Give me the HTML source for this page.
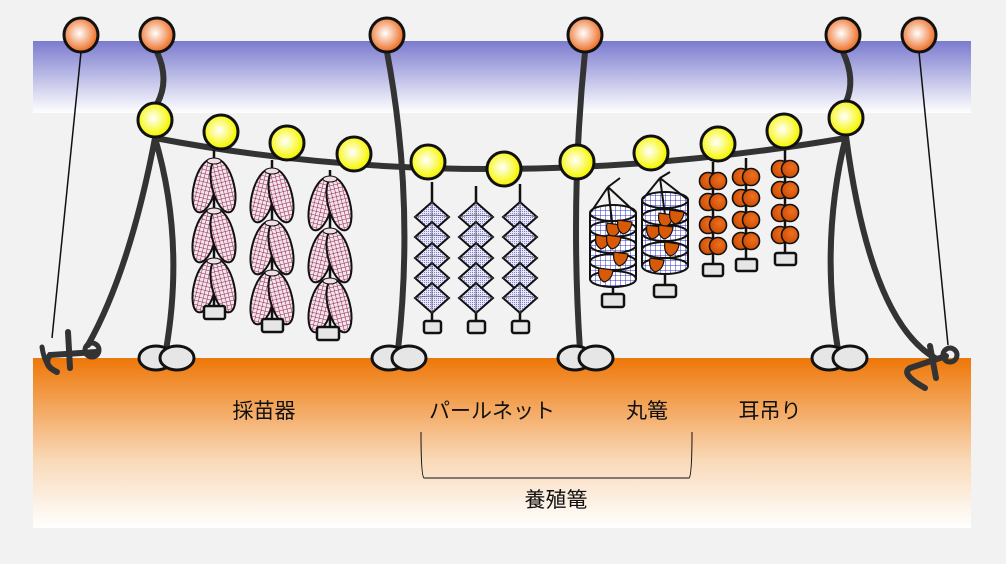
<!DOCTYPE html>
<html><head><meta charset="utf-8"><style>
html,body{margin:0;padding:0;background:#f2f2f2}
svg{display:block}
text{font-family:"Liberation Sans","Noto Sans CJK JP",sans-serif;font-size:21px;fill:#111}
</style></head><body>
<svg width="1006" height="564" viewBox="0 0 1006 564" xmlns="http://www.w3.org/2000/svg">
<defs>
<linearGradient id="sky" x1="0" y1="0" x2="0" y2="1"><stop offset="0" stop-color="#7b7bcf"/><stop offset="1" stop-color="#ffffff"/></linearGradient>
<linearGradient id="gnd" x1="0" y1="0" x2="0" y2="1"><stop offset="0" stop-color="#ee7708"/><stop offset="0.6" stop-color="#f9d9b8"/><stop offset="1" stop-color="#ffffff"/></linearGradient>
<radialGradient id="or" cx="0.45" cy="0.45" r="0.55"><stop offset="0" stop-color="#fff"/><stop offset="0.85" stop-color="#f08040"/><stop offset="1" stop-color="#e86a20"/></radialGradient>
<radialGradient id="ye" cx="0.45" cy="0.45" r="0.55"><stop offset="0" stop-color="#fff"/><stop offset="0.8" stop-color="#f8f820"/><stop offset="1" stop-color="#eeee00"/></radialGradient>
<radialGradient id="ball" cx="0.6" cy="0.4" r="0.7"><stop offset="0" stop-color="#f07020"/><stop offset="1" stop-color="#c84800"/></radialGradient>
<pattern id="pg" width="4" height="4" patternUnits="userSpaceOnUse"><rect width="4" height="4" fill="#f4e4ea"/><path d="M0 0H4M0 0V4" stroke="#8a2050" stroke-width="1"/></pattern>
<pattern id="bg" width="5" height="5" patternUnits="userSpaceOnUse"><rect width="5" height="5" fill="#fff"/><path d="M0 0H5M0 0V5" stroke="#3030c0" stroke-width="1"/></pattern>
<pattern id="dg" width="2" height="2" patternUnits="userSpaceOnUse"><rect width="2" height="2" fill="#e8e8fa"/><rect width="1" height="1" fill="#8080d0"/></pattern>
<g id="leaf">
<ellipse cx="-9" cy="28" rx="11" ry="27" transform="rotate(14 -9 28)" fill="url(#pg)" stroke="#111" stroke-width="2"/>
<ellipse cx="9" cy="28" rx="11" ry="27" transform="rotate(-14 9 28)" fill="url(#pg)" stroke="#111" stroke-width="2"/>
<ellipse cx="0" cy="3" rx="7" ry="3" fill="#f3dde5" stroke="#111" stroke-width="1"/>
</g>
<g id="dia">
<path d="M0 -15 L17 0 L0 15 L-17 0Z" fill="url(#dg)" stroke="#111" stroke-width="2"/>
<path d="M0 -15 L0 15 M-17 0 Q0 -4 17 0" fill="none" stroke="#555" stroke-width="0.8"/>
</g>
<g id="bp"><circle cx="-5" cy="0" r="8.5" fill="url(#ball)" stroke="#111" stroke-width="1.6"/><circle cx="5" cy="0" r="8.5" fill="url(#ball)" stroke="#111" stroke-width="1.6"/></g>
<g id="oy"><path d="M-7 -6 Q-9 4 -2 8 Q6 6 7 -4 Z" fill="#d85a08" stroke="#111" stroke-width="1.2"/></g>
</defs>
<rect x="33" y="41" width="938" height="72" fill="url(#sky)"/>
<rect x="33" y="113" width="938" height="245" fill="#f2f2f2"/>
<rect x="33" y="358" width="938" height="170" fill="url(#gnd)"/>

<path d="M81 52 L52 338" stroke="#111" stroke-width="1.5" fill="none"/>
<path d="M919 52 L948 345" stroke="#111" stroke-width="1.5" fill="none"/>

<g stroke="#333" stroke-width="6" fill="none" stroke-linecap="round">
<path d="M157 52 Q170 80 157 104"/>
<path d="M155 138 Q130 270 88 345"/>
<path d="M155 138 Q185 240 166 350"/>
<path d="M155 138 Q480 200 846 138"/>
<path d="M387 52 Q415 200 398 350"/>
<path d="M585 52 Q570 200 580 350"/>
<path d="M843 52 Q856 80 846 102"/>
<path d="M846 136 Q820 240 838 350"/>
<path d="M846 136 Q870 320 935 358"/>
<path d="M96 352 L50 355 Q42 365 57 372"/>
<path d="M42 347 Q45 368 57 372" stroke-width="5"/>
<path d="M68 332 L70 368"/>
<circle cx="92" cy="350" r="7" stroke-width="5"/>
<path d="M946 356 L910 368 Q900 374 925 388" />
<path d="M930 346 L936 378"/>
<circle cx="950" cy="355" r="7" stroke-width="5"/>
</g>

<g fill="#e6e6e6" stroke="#111" stroke-width="3">
<ellipse cx="156" cy="358" rx="17" ry="12"/><ellipse cx="177" cy="358" rx="17" ry="12"/>
<ellipse cx="389" cy="358" rx="17" ry="12"/><ellipse cx="409" cy="358" rx="17" ry="12"/>
<ellipse cx="575" cy="358" rx="17" ry="12"/><ellipse cx="596" cy="358" rx="17" ry="12"/>
<ellipse cx="829" cy="358" rx="17" ry="12"/><ellipse cx="850" cy="358" rx="17" ry="12"/>
</g>

<g stroke="#111" stroke-width="2.5" fill="none">
<path d="M214 150 V310"/><path d="M272 160 V322"/><path d="M330 170 V330"/>
<path d="M432 182 V322"/><path d="M476 186 V322"/><path d="M520 184 V322"/>
<path d="M713 162 V266"/><path d="M746 158 V260"/><path d="M785 150 V254"/>
<path d="M613 285 V296"/><path d="M665 272 V286"/>
</g>

<use href="#leaf" x="214" y="158"/><use href="#leaf" x="214" y="208"/><use href="#leaf" x="214" y="258"/>
<use href="#leaf" x="272" y="168"/><use href="#leaf" x="272" y="220"/><use href="#leaf" x="272" y="270"/>
<use href="#leaf" x="330" y="176"/><use href="#leaf" x="330" y="228"/><use href="#leaf" x="330" y="278"/>

<g>
<use href="#dia" x="432" y="217"/><use href="#dia" x="432" y="237"/><use href="#dia" x="432" y="258"/><use href="#dia" x="432" y="278"/><use href="#dia" x="432" y="298"/>
<use href="#dia" x="476" y="217"/><use href="#dia" x="476" y="237"/><use href="#dia" x="476" y="258"/><use href="#dia" x="476" y="278"/><use href="#dia" x="476" y="298"/>
<use href="#dia" x="520" y="217"/><use href="#dia" x="520" y="237"/><use href="#dia" x="520" y="258"/><use href="#dia" x="520" y="278"/><use href="#dia" x="520" y="298"/>
</g>

<g stroke="#111" stroke-width="2">
<rect x="590" y="213" width="46" height="66" fill="url(#bg)" stroke="none"/>
<path d="M590 213 V279 M636 213 V279" fill="none"/>
<ellipse cx="613" cy="279" rx="23" ry="8" fill="url(#bg)"/>
<ellipse cx="613" cy="262" rx="23" ry="8" fill="url(#bg)"/>
<ellipse cx="613" cy="245" rx="23" ry="8" fill="url(#bg)"/>
<ellipse cx="613" cy="229" rx="23" ry="8" fill="url(#bg)"/>
<ellipse cx="613" cy="213" rx="23" ry="8" fill="url(#bg)"/>
<path d="M608 187 L591 212 M608 187 L635 212 M608 187 L613 230 M608 187 L620 178" fill="none"/>
<rect x="642" y="200" width="46" height="66" fill="url(#bg)" stroke="none"/>
<path d="M642 200 V266 M688 200 V266" fill="none"/>
<ellipse cx="665" cy="266" rx="23" ry="8" fill="url(#bg)"/>
<ellipse cx="665" cy="250" rx="23" ry="8" fill="url(#bg)"/>
<ellipse cx="665" cy="233" rx="23" ry="8" fill="url(#bg)"/>
<ellipse cx="665" cy="217" rx="23" ry="8" fill="url(#bg)"/>
<ellipse cx="665" cy="200" rx="23" ry="8" fill="url(#bg)"/>
<path d="M660 178 L643 199 M660 178 L687 199 M660 178 L665 215 M660 178 L670 172" fill="none"/>
</g>
<use href="#oy" x="614" y="229"/><use href="#oy" x="625" y="226"/>
<use href="#oy" x="603" y="241"/><use href="#oy" x="614" y="241"/>
<use href="#oy" x="621" y="258"/><use href="#oy" x="606" y="274"/>
<use href="#oy" x="666" y="219"/><use href="#oy" x="677" y="216"/>
<use href="#oy" x="654" y="231"/><use href="#oy" x="666" y="231"/>
<use href="#oy" x="672" y="248"/><use href="#oy" x="657" y="264"/>

<use href="#bp" x="713" y="181"/><use href="#bp" x="713" y="202"/><use href="#bp" x="713" y="225"/><use href="#bp" x="713" y="246"/>
<use href="#bp" x="746" y="177"/><use href="#bp" x="746" y="198"/><use href="#bp" x="746" y="220"/><use href="#bp" x="746" y="241"/>
<use href="#bp" x="785" y="169"/><use href="#bp" x="785" y="190"/><use href="#bp" x="785" y="213"/><use href="#bp" x="785" y="235"/>

<g fill="#e6e6e6" stroke="#111" stroke-width="2.5">
<rect x="204" y="306" width="21" height="13" rx="2"/>
<rect x="262" y="319" width="21" height="13" rx="2"/>
<rect x="317" y="327" width="22" height="13" rx="2"/>
<rect x="424" y="321" width="17" height="12" rx="2"/>
<rect x="468" y="321" width="17" height="12" rx="2"/>
<rect x="512" y="321" width="17" height="12" rx="2"/>
<rect x="602" y="294" width="22" height="13" rx="2"/>
<rect x="654" y="285" width="22" height="12" rx="2"/>
<rect x="703" y="264" width="20" height="12" rx="2"/>
<rect x="736" y="259" width="21" height="12" rx="2"/>
<rect x="775" y="253" width="21" height="12" rx="2"/>
</g>

<g stroke="#111" stroke-width="3">
<circle cx="81" cy="35" r="17" fill="url(#or)"/>
<circle cx="157" cy="35" r="17" fill="url(#or)"/>
<circle cx="387" cy="35" r="17" fill="url(#or)"/>
<circle cx="585" cy="35" r="17" fill="url(#or)"/>
<circle cx="843" cy="35" r="17" fill="url(#or)"/>
<circle cx="919" cy="35" r="17" fill="url(#or)"/>
<circle cx="155" cy="120" r="17" fill="url(#ye)"/>
<circle cx="221" cy="132" r="17" fill="url(#ye)"/>
<circle cx="287" cy="143" r="17" fill="url(#ye)"/>
<circle cx="354" cy="154" r="17" fill="url(#ye)"/>
<circle cx="428" cy="162" r="17" fill="url(#ye)"/>
<circle cx="504" cy="169" r="17" fill="url(#ye)"/>
<circle cx="577" cy="162" r="17" fill="url(#ye)"/>
<circle cx="651" cy="153" r="17" fill="url(#ye)"/>
<circle cx="718" cy="144" r="17" fill="url(#ye)"/>
<circle cx="784" cy="131" r="17" fill="url(#ye)"/>
<circle cx="846" cy="118" r="17" fill="url(#ye)"/>
</g>

<text x="264" y="418" text-anchor="middle">採苗器</text>
<text x="492" y="418" text-anchor="middle">パールネット</text>
<text x="647" y="418" text-anchor="middle">丸篭</text>
<text x="770" y="418" text-anchor="middle">耳吊り</text>
<text x="556" y="507" text-anchor="middle">養殖篭</text>
<path d="M421 432 Q421 476 424 478 L689 478 Q692 476 692 432" fill="none" stroke="#111" stroke-width="1"/>
</svg>
</body></html>
